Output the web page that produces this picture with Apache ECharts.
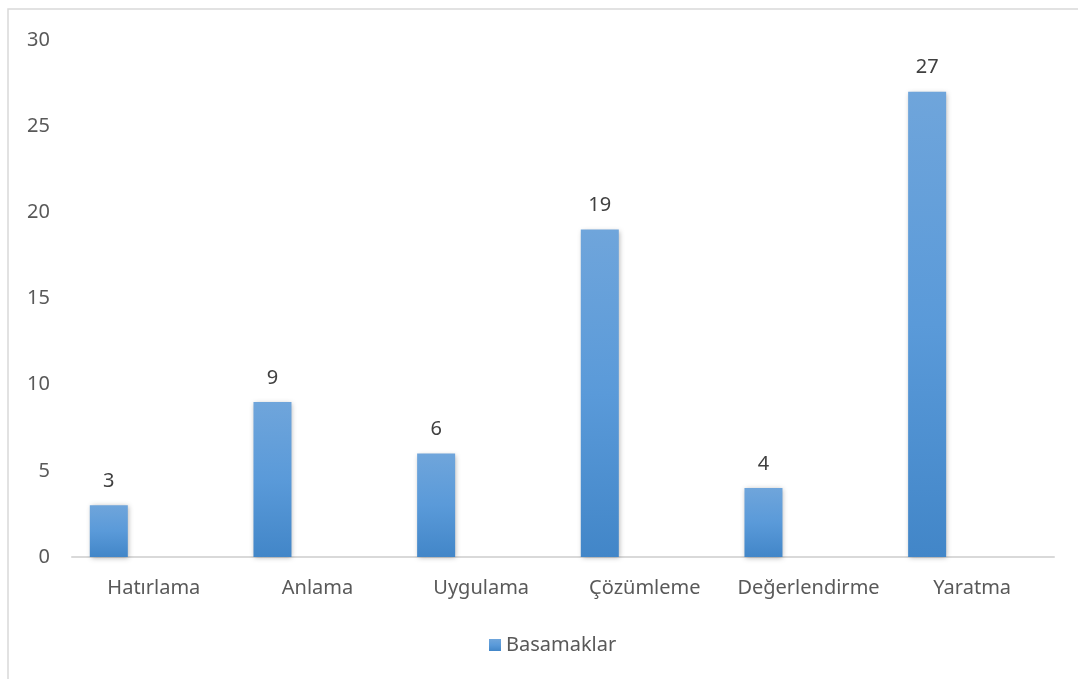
<!DOCTYPE html>
<html>
<head>
<meta charset="utf-8">
<script src="https://cdn.jsdelivr.net/npm/echarts@6/dist/echarts.min.js"></script>
<style>html,body{margin:0;padding:0;background:#fff}#c{width:1078px;height:679px}</style>
</head>
<body>
<div id="c"></div>
<script>
const categories = ['Hatırlama', 'Anlama', 'Uygulama', 'Çözümleme', 'Değerlendirme', 'Yaratma'];
const values = [3, 9, 6, 19, 4, 27];
const seriesName = 'Basamaklar';
const yTicks = { min: 0, max: 30, interval: 5 };

const chart = echarts.init(document.getElementById('c'), null, { renderer: 'canvas' });
const font = '"Noto Sans", "Open Sans", sans-serif';
chart.setOption({
  backgroundColor: '#ffffff',
  animation: false,
  graphic: [{
    type: 'rect', silent: true,
    shape: { x: 8, y: 9, width: 1200, height: 800 },
    style: { fill: 'none', stroke: '#d9d9d9', lineWidth: 1.5 }
  }],
  grid: { left: 72, right: 24, top: 40, bottom: 122, containLabel: false },
  legend: {
    data: [seriesName], left: 484, top: 630,
    itemWidth: 12, itemHeight: 12, itemGap: 6, icon: 'rect',
    textStyle: { color: '#595959', fontSize: 20, fontFamily: font, padding: [0, 0, 0, 0] }
  },
  xAxis: {
    type: 'category', data: categories,
    axisLine: { show: true, lineStyle: { color: '#d9d9d9', width: 2 } },
    axisTick: { show: false },
    axisLabel: { color: '#595959', fontSize: 20, fontFamily: font, margin: 21, interval: 0 },
    splitLine: { show: false }
  },
  yAxis: {
    type: 'value', min: yTicks.min, max: yTicks.max, interval: yTicks.interval,
    axisLine: { show: false }, axisTick: { show: false },
    splitLine: { show: false },
    axisLabel: { color: '#595959', fontSize: 20, fontFamily: font, margin: 22 }
  },
  series: [{
    name: seriesName, type: 'bar', data: values,
    barWidth: 38, barGap: '137%',
    itemStyle: {
      color: new echarts.graphic.LinearGradient(0, 0, 0, 1, [
        { offset: 0, color: '#6fa5db' },
        { offset: 0.5, color: '#5a9ad9' },
        { offset: 1, color: '#4286c8' }
      ]),
      shadowBlur: 5, shadowColor: 'rgba(0,0,0,0.3)', shadowOffsetX: 1, shadowOffsetY: 1
    },
    label: { show: true, position: 'top', distance: 14, color: '#404040', fontSize: 20, fontFamily: font }
  }, {
    name: 'empty', type: 'bar', data: values.map(() => null), barWidth: 38
  }]
});
</script>
</body>
</html>
